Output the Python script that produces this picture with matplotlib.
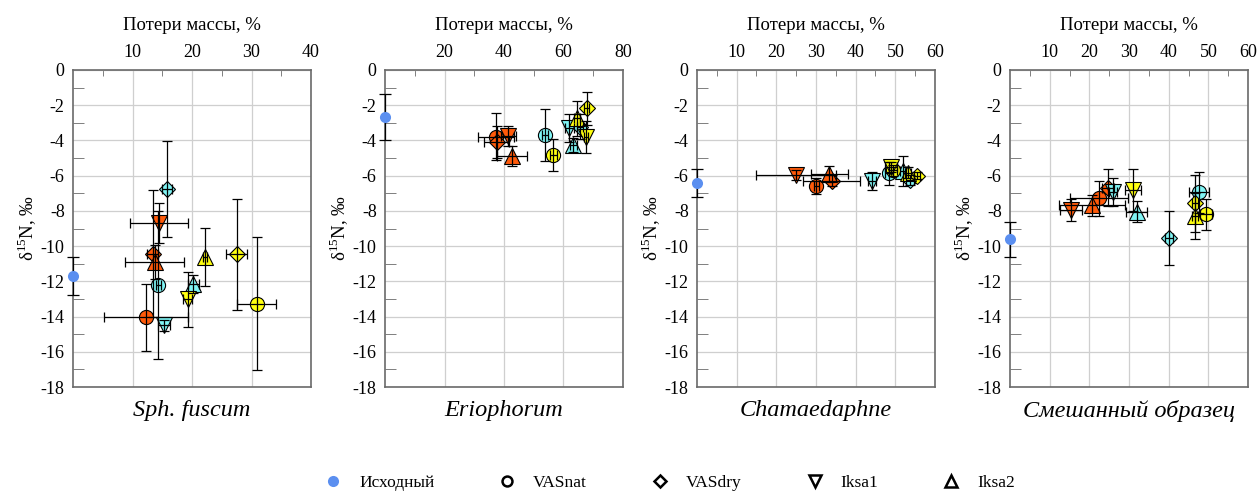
import matplotlib
matplotlib.use("Agg")
import matplotlib.pyplot as plt
from matplotlib.lines import Line2D
import numpy as np

plt.rcParams["font.family"] = ["Liberation Serif", "DejaVu Serif"]
plt.rcParams["axes.unicode_minus"] = False
plt.rcParams["mathtext.fontset"] = "custom"
plt.rcParams["mathtext.rm"] = "Liberation Serif"

# Treatments (marker shapes) and exposure groups (fill colours)
treatments = ["VASnat", "VASdry", "Iksa1", "Iksa2"]
group_colors = ["#ff5a0a", "#80f4f4", "#ffff10"]
initial_color = "#5b8ff0"

titles = ["Sph. fuscum", "Eriophorum", "Chamaedaphne", "Смешанный образец"]
x_max = [40, 80, 60, 60]
x_step = [10, 20, 10, 10]

# Initial material: delta15N and its error (mass loss = 0)
initial_y = [-11.7, -2.65, -6.4, -9.62]
initial_yerr = [1.1, 1.3, 0.8, 1.0]

# Rows: colour groups; columns: VASnat, VASdry, Iksa1, Iksa2
sph_x = [[12.3, 13.4, 14.5, 13.7], [14.35, 15.8, 15.35, 20.2], [30.85, 27.5, 19.27, 22.2]]
sph_xerr = [[7.05, 0.9, 4.85, 5.0], [0.4, 0.85, 1.0, 0.9], [3.35, 1.8, 0.7, 0.4]]
sph_y = [[-14.05, -10.42, -8.68, -10.9], [-12.22, -6.76, -14.5, -12.16], [-13.26, -10.47, -13.03, -10.6]]
sph_yerr = [[1.9, 3.6, 1.14, 0.95], [4.2, 2.75, 0.3, 0.5], [3.77, 3.15, 1.55, 1.64]]

eri_x = [[37.3, 37.5, 41.5, 42.6], [53.8, 65.5, 62.0, 63.3], [56.6, 67.8, 67.6, 64.6]]
eri_xerr = [[5.9, 4.2, 2.5, 5.1], [1.0, 1.0, 1.5, 1.2], [1.2, 0.8, 0.8, 1.0]]
eri_y = [[-3.79, -4.07, -3.75, -4.89], [-3.69, -3.22, -3.31, -4.26], [-4.83, -2.18, -3.79, -2.75]]
eri_yerr = [[1.33, 0.9, 0.57, 0.55], [1.45, 0.7, 0.8, 0.4], [0.92, 0.95, 0.9, 1.0]]

cha_x = [[30.05, 34.0, 25.0, 33.4], [48.4, 53.6, 44.2, 52.0], [49.5, 55.5, 48.8, 53.2]]
cha_xerr = [[0.6, 7.2, 10.1, 4.55], [1.0, 1.0, 1.0, 0.8], [1.0, 0.8, 1.5, 0.8]]
cha_y = [[-6.59, -6.29, -5.97, -5.9], [-5.87, -6.25, -6.29, -5.75], [-5.7, -6.0, -5.5, -5.83]]
cha_yerr = [[0.45, 0.3, 0.3, 0.45], [0.65, 0.3, 0.5, 0.85], [0.3, 0.2, 0.3, 0.3]]

mix_x = [[22.4, 24.6, 15.3, 20.7], [47.7, 40.1, 26.0, 31.9], [49.5, 46.7, 31.0, 46.6]]
mix_xerr = [[7.3, 1.5, 2.8, 8.4], [2.5, 1.0, 1.0, 2.7], [1.5, 0.8, 2.1, 0.8]]
mix_y = [[-7.29, -6.69, -7.95, -7.67], [-6.95, -9.56, -6.91, -8.05], [-8.2, -7.58, -6.82, -8.28]]
mix_yerr = [[1.0, 1.06, 0.6, 0.6], [1.17, 1.53, 0.8, 0.6], [0.87, 1.6, 1.2, 1.3]]

panels = [
    (sph_x, sph_xerr, sph_y, sph_yerr),
    (eri_x, eri_xerr, eri_y, eri_yerr),
    (cha_x, cha_xerr, cha_y, cha_yerr),
    (mix_x, mix_xerr, mix_y, mix_yerr),
]

markers = {"VASnat": ("o", 10.2), "VASdry": ("D", 8.6), "Iksa1": ("v", 11.5), "Iksa2": ("^", 11.5)}

W, H = 1259, 492
fig = plt.figure(figsize=(W / 100, H / 100), dpi=100)
lefts = [73, 385, 697, 1010]
ax_w, ax_bottom, ax_h = 238, 105, 317

spine_color = "#6a6a6a"
grid_color = "#cfcfcf"

for i, (xs, xes, ys, yes) in enumerate(panels):
    ax = fig.add_axes([lefts[i] / W, ax_bottom / H, ax_w / W, ax_h / H])
    ax.set_xlim(0, x_max[i])
    ax.set_ylim(-18, 0)
    ax.set_xticks(np.arange(x_step[i], x_max[i] + 0.1, x_step[i]))
    ax.set_xticks(np.arange(x_step[i] / 2, x_max[i], x_step[i]), minor=True)
    ax.set_yticks(np.arange(-18, 0.1, 2))
    ax.set_yticks(np.arange(-17, 0, 2), minor=True)
    ax.set_yticklabels([f"{int(v)}" for v in np.arange(-18, 0.1, 2)])
    ax.xaxis.tick_top()
    ax.xaxis.set_label_position("top")
    ax.tick_params(axis="x", which="both", direction="in", top=True, bottom=False,
                   labeltop=True, labelbottom=False, labelsize=13, color=spine_color, pad=6.5)
    ax.tick_params(axis="x", which="minor", length=4)
    ax.tick_params(axis="x", which="major", length=0)
    ax.tick_params(axis="y", which="both", direction="in", left=True, right=False,
                   labelsize=13, color=spine_color, pad=6)
    ax.tick_params(axis="y", which="major", length=0)
    ax.tick_params(axis="y", which="minor", length=8)
    for sp in ax.spines.values():
        sp.set_color(spine_color)
        sp.set_linewidth(1.2)
    ax.grid(True, which="major", color=grid_color, linewidth=0.9)
    ax.set_axisbelow(True)
    ax.set_xlabel("Потери массы, %", fontsize=13.5, labelpad=10)
    ax.set_ylabel("δ$^{15}$N, ‰", fontsize=13.5, labelpad=1)
    ax.text(0.5, -0.04, titles[i], transform=ax.transAxes, ha="center", va="top",
            fontsize=17.5, style="italic")

    # initial material at zero mass loss
    ax.errorbar([0], [initial_y[i]], yerr=[initial_yerr[i]], fmt="none", ecolor="black",
                elinewidth=0.9, capsize=4, capthick=0.9, zorder=4, clip_on=False)
    ax.plot([0], [initial_y[i]], marker="o", ms=8, color=initial_color, mec="none",
            linestyle="none", zorder=5, clip_on=False)

    for g, col in enumerate(group_colors):
        for t, name in enumerate(treatments):
            m, ms = markers[name]
            ax.plot(xs[g][t], ys[g][t], marker=m, ms=ms, mfc=col, mec="black", mew=0.8,
                    linestyle="none", zorder=3, clip_on=False)
            ax.errorbar(xs[g][t], ys[g][t], xerr=xes[g][t], yerr=yes[g][t], fmt="none",
                        ecolor="black", elinewidth=0.9, capsize=3.4, capthick=0.9,
                        zorder=4, clip_on=False)

handles = [Line2D([], [], marker="o", ms=8, color=initial_color, mec="none", linestyle="none")]
for name in treatments:
    m, ms = markers[name]
    handles.append(Line2D([], [], marker=m, ms=ms * 0.7, mfc="white", mec="black", mew=1.8,
                          linestyle="none"))
fig.legend(handles, ["Исходный"] + treatments, loc="center", bbox_to_anchor=(0.532, 0.018),
           ncol=5, frameon=False, fontsize=12.5, columnspacing=3.7, handletextpad=1.0,
           handlelength=1.0)

fig.savefig("out.png", dpi=100, facecolor="white")
